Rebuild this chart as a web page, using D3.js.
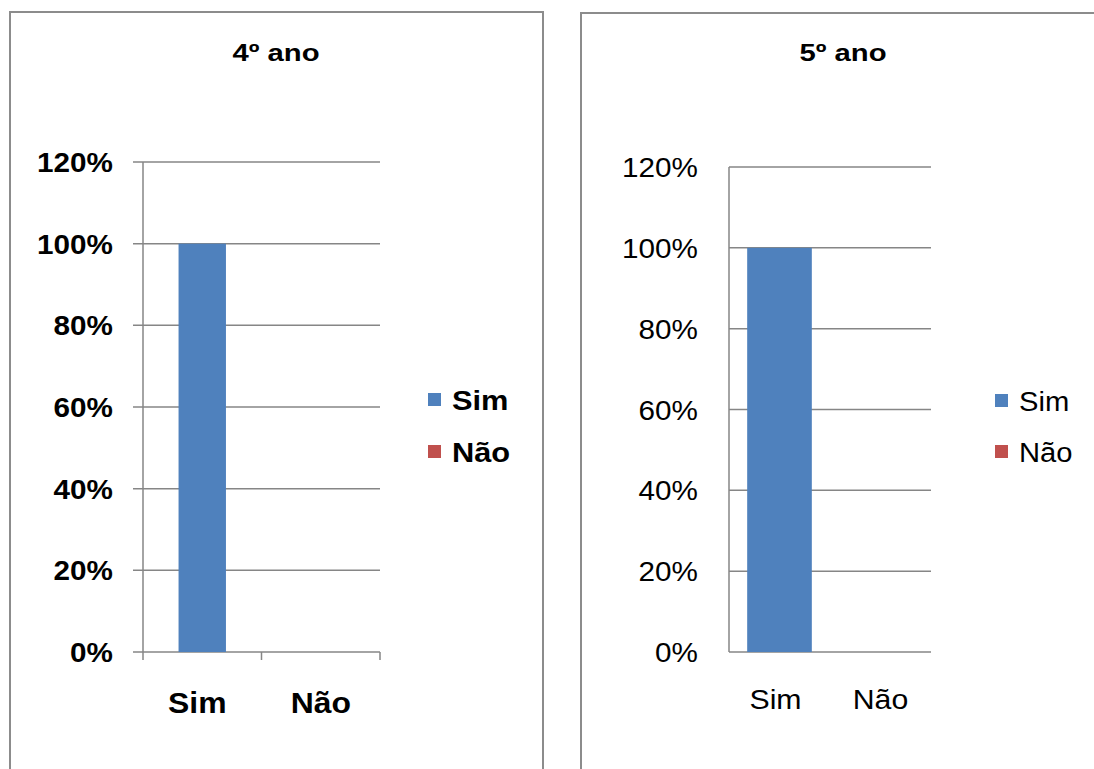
<!DOCTYPE html>
<html><head><meta charset="utf-8">
<script src="https://cdn.jsdelivr.net/npm/d3@7"></script>
<style>body{margin:0;background:#fff}svg{display:block}text{font-family:"Liberation Sans",Arial,sans-serif;fill:#000}</style>
</head><body>
<script>
const categories = ["Sim", "Não"];
const series = ["Sim", "Não"];
const values4 = [1.0, 0.0];
const values5 = [1.0, 0.0];
const yTicks = [0, 0.2, 0.4, 0.6, 0.8, 1.0, 1.2];
const titles = ["4º ano", "5º ano"];
const colors = ["#4F81BD", "#C0504D"];

const W = 1094, H = 769;
const svg = d3.select("body").append("svg").attr("width", W).attr("height", H);

const panels = [
  {title: titles[0], values: values4, box: [10, 12, 533, 800], x0: 143, x1: 380, yT: 162, y0: 652,
   bold: true, ticks: true, pi: 0.6, po: 0.3, titleX: 276, titleY: 61, labelX: 113, xLabY: 713, simShift: -5,
   legX: 428, legY: [400, 452], titleSize: 24, titleStretch: 1.22, tickSize: 28, tickStretch: 1.06, legSize: 28, legStretch: 1.1, xSize: 29, xStretch: 1.1},
  {title: titles[1], values: values5, box: [581, 13, 600, 800], x0: 729, x1: 931, yT: 167, y0: 652,
   bold: false, ticks: false, pi: 0.36, po: 0.18, titleX: 843, titleY: 61, labelX: 698, xLabY: 709, simShift: -4,
   legX: 995, legY: [401, 452], titleSize: 24, titleStretch: 1.22, tickSize: 28, tickStretch: 1.06, legSize: 27, legStretch: 1.08, xSize: 28, xStretch: 1.08}
];

function stretchedText(g, x, y, txt, size, stretch, anchor, bold) {
  g.append("text")
    .attr("transform", `translate(${x},${y}) scale(${stretch},1)`)
    .attr("text-anchor", anchor)
    .attr("font-size", size)
    .attr("font-weight", bold ? "bold" : "normal")
    .text(txt);
}

panels.forEach(p => {
  const g = svg.append("g");
  g.append("rect").attr("x", p.box[0]).attr("y", p.box[1]).attr("width", p.box[2]).attr("height", p.box[3])
    .attr("fill", "#fff").attr("stroke", "#8c8c8c").attr("stroke-width", 2);

  const y = d3.scaleLinear().domain([0, 1.2]).range([p.y0, p.yT]);
  const x = d3.scaleBand().domain(categories).range([p.x0, p.x1]).paddingInner(p.pi).paddingOuter(p.po);
  const xFull = d3.scaleBand().domain(categories).range([p.x0, p.x1]);

  g.selectAll(".grid").data(yTicks).enter().append("line")
    .attr("x1", p.ticks ? p.x0 - 10 : p.x0).attr("x2", p.x1)
    .attr("y1", d => y(d)).attr("y2", d => y(d))
    .attr("stroke", "#868686").attr("stroke-width", 1.5);

  g.append("line").attr("x1", p.x0).attr("x2", p.x0).attr("y1", p.yT).attr("y2", p.ticks ? p.y0 + 8 : p.y0)
    .attr("stroke", "#868686").attr("stroke-width", 1.5);

  if (p.ticks) {
    categories.forEach(c => {
      const xe = xFull(c) + xFull.bandwidth();
      g.append("line").attr("x1", xe).attr("x2", xe).attr("y1", p.y0).attr("y2", p.y0 + 8)
        .attr("stroke", "#868686").attr("stroke-width", 1.5);
    });
  }

  yTicks.forEach(t => {
    stretchedText(g, p.labelX, y(t) + 10, d3.format(".0%")(t), p.tickSize, p.tickStretch, "end", p.bold);
  });

  g.selectAll(".bar").data(categories.map((c, i) => ({c, v: p.values[i], i}))).enter().append("rect")
    .attr("x", d => x(d.c)).attr("width", x.bandwidth())
    .attr("y", d => y(d.v)).attr("height", d => y(0) - y(d.v))
    .attr("fill", colors[0]);

  categories.forEach((c, i) => {
    stretchedText(g, xFull(c) + xFull.bandwidth() / 2 + (i === 0 ? p.simShift : 0), p.xLabY, c, p.xSize, p.xStretch, "middle", p.bold);
  });

  stretchedText(g, p.titleX, p.titleY, p.title, p.titleSize, p.titleStretch, "middle", true);

  series.forEach((s, i) => {
    g.append("rect").attr("x", p.legX).attr("y", p.legY[i] - 7).attr("width", 13).attr("height", 13)
      .attr("fill", colors[i]);
    stretchedText(g, p.legX + 24, p.legY[i] + 10, s, p.legSize, p.legStretch, "start", p.bold);
  });
});
</script>
</body></html>
